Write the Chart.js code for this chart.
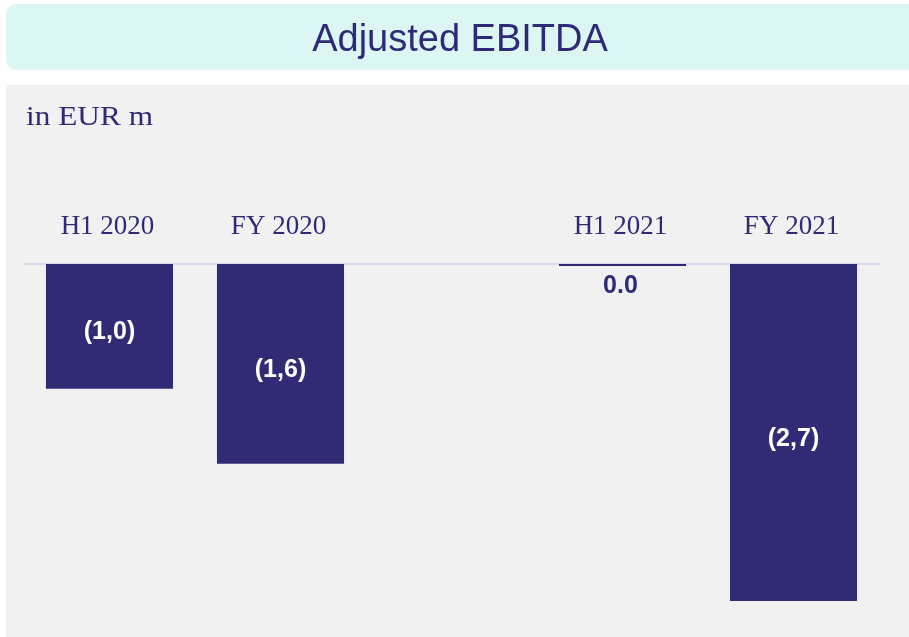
<!DOCTYPE html>
<html><head><meta charset="utf-8">
<script src="https://cdn.jsdelivr.net/npm/chart.js@4/dist/chart.umd.min.js"></script>
<style>html,body{margin:0;padding:0;background:#fff;}#wrap{width:909px;height:637px;position:relative;}</style>
</head><body><div id="wrap"><canvas id="c"></canvas></div>
<script>
const chartTitle = 'Adjusted EBITDA';
const unitLabel = 'in EUR m';
const categories = ['H1 2020', 'FY 2020', '', 'H1 2021', 'FY 2021'];
const values = [-1.0, -1.6, null, 0.0, -2.7];
const valueLabels = ['(1,0)', '(1,6)', '', '0.0', '(2,7)'];

const NAVY = '#312A75';
const TEXT = '#2F2A78';

const decor = {
  id: 'decor',
  beforeDraw(chart) {
    const ctx = chart.ctx;
    ctx.save();
    ctx.fillStyle = '#fff';
    ctx.fillRect(0, 0, chart.width, chart.height);
    // title box
    ctx.fillStyle = '#DCF7F3';
    ctx.beginPath();
    ctx.roundRect(6, 4, 930, 66, 10);
    ctx.fill();
    ctx.fillStyle = TEXT;
    ctx.font = '38px "Liberation Sans", Arial, sans-serif';
    ctx.textAlign = 'center';
    ctx.textBaseline = 'alphabetic';
    ctx.fillText(chartTitle, 460, 51);
    // panel
    ctx.fillStyle = '#F1F1F1';
    ctx.fillRect(6, 85, chart.width - 6, chart.height - 85);
    // unit label
    ctx.fillStyle = TEXT;
    ctx.font = '28px "Liberation Serif", "Times New Roman", serif';
    ctx.textAlign = 'left';
    const w = ctx.measureText(unitLabel).width;
    ctx.translate(26, 125);
    ctx.scale(127 / w, 1);
    ctx.fillText(unitLabel, 0, 0);
    ctx.restore();
  },
  beforeDatasetsDraw(chart) {
    const ctx = chart.ctx;
    const y = chart.scales.y;
    const x = chart.scales.x;
    const a = chart.chartArea;
    const y0 = y.getPixelForValue(0);
    ctx.save();
    ctx.strokeStyle = '#DCD9F1';
    ctx.lineWidth = 2;
    ctx.beginPath();
    ctx.moveTo(a.left, y0);
    ctx.lineTo(a.right + 1, y0);
    ctx.stroke();
    // category labels above the zero line
    ctx.fillStyle = TEXT;
    ctx.font = '27px "Liberation Serif", "Times New Roman", serif';
    ctx.textAlign = 'center';
    ctx.textBaseline = 'alphabetic';
    categories.forEach((c, i) => {
      if (c) ctx.fillText(c, x.getPixelForValue(i) - 2, y0 - 30);
    });
    ctx.restore();
  },
  afterDatasetsDraw(chart) {
    const ctx = chart.ctx;
    const meta = chart.getDatasetMeta(0);
    ctx.save();
    ctx.font = 'bold 25px "Liberation Sans", Arial, sans-serif';
    ctx.textAlign = 'center';
    ctx.textBaseline = 'alphabetic';
    meta.data.forEach((bar, i) => {
      const v = values[i];
      if (v === null || !valueLabels[i]) return;
      if (v < 0) {
        ctx.fillStyle = '#ffffff';
        ctx.fillText(valueLabels[i], bar.x, (bar.y + bar.base) / 2 + 13);
      } else {
        ctx.fillStyle = TEXT;
        ctx.fillText(valueLabels[i], bar.x - 2, bar.base + 29);
      }
    });
    ctx.restore();
  }
};

new Chart(document.getElementById('c'), {
  type: 'bar',
  data: {
    labels: categories,
    datasets: [{
      data: values,
      backgroundColor: NAVY,
      borderWidth: 0,
      barPercentage: 0.743,
      categoryPercentage: 1,
      minBarLength: 2
    }]
  },
  options: {
    responsive: true,
    maintainAspectRatio: false,
    animation: false,
    layout: { padding: { top: 264, left: 24, right: 30, bottom: 11 } },
    plugins: { legend: { display: false }, tooltip: { enabled: false }, title: { display: false } },
    scales: {
      x: { display: false },
      y: { display: false, min: -2.9, max: 0 }
    }
  },
  plugins: [decor]
});
</script>
</body></html>
